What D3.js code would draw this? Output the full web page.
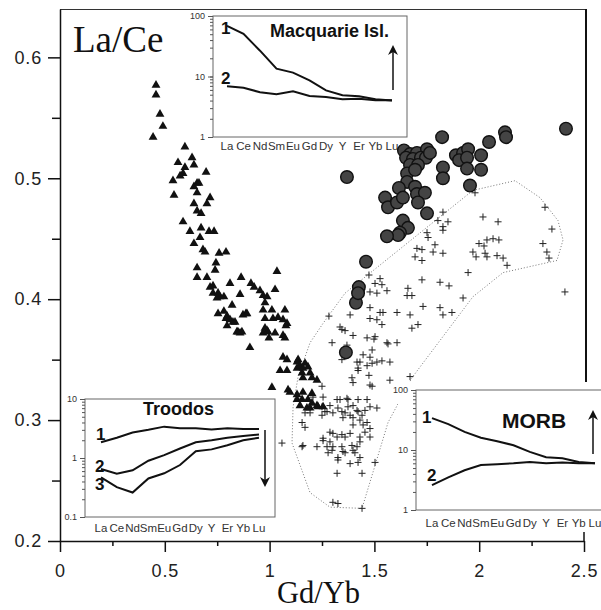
<!DOCTYPE html>
<html>
<head>
<meta charset="utf-8">
<script src="https://cdn.jsdelivr.net/npm/d3@7"></script>
<style>
body { margin: 0; background: #fff; }
svg { display: block; font-family: "Liberation Sans", Arial, sans-serif; }
</style>
</head>
<body>
<div id="container"></div>
<script>
// Gd/Yb vs La/Ce scatter data
const triangles = [
  [0.458,0.577],[0.458,0.569],[0.477,0.553],[0.491,0.543],[0.444,0.534],
  [0.596,0.526],[0.563,0.513],[0.630,0.517],[0.639,0.511],[0.596,0.509],[0.587,0.504],[0.573,0.502],
  [0.539,0.498],[0.697,0.505],[0.654,0.496],[0.639,0.493],[0.663,0.496],[0.654,0.488],[0.544,0.486],
  [0.716,0.484],[0.639,0.479],[0.701,0.479],[0.654,0.473],[0.673,0.471],[0.587,0.464],[0.620,0.456],
  [0.673,0.459],[0.711,0.456],[0.735,0.456],[0.668,0.451],[0.639,0.446],[0.682,0.441],[0.692,0.439],
  [0.759,0.438],[0.792,0.439],[0.744,0.430],[0.654,0.426],[0.654,0.418],[0.701,0.418],[0.716,0.410],
  [0.811,0.413],[0.864,0.418],[0.911,0.413],[0.954,0.407],[1.035,0.423],[1.026,0.408],[0.730,0.405],
  [0.763,0.402],[0.782,0.402],[0.859,0.404],[0.969,0.403],[0.988,0.402],[0.740,0.424],[0.730,0.411],
  [0.754,0.405],[0.749,0.401],[0.926,0.410],
  [0.754,0.388],[0.797,0.386],[0.811,0.383],[0.825,0.381],[0.887,0.388],[0.849,0.373],[0.859,0.372],
  [0.978,0.397],[0.969,0.391],[0.978,0.384],[1.016,0.384],[1.040,0.385],[1.073,0.391],[1.064,0.383],
  [1.083,0.380],[0.988,0.374],[0.969,0.372],[1.026,0.372],[1.064,0.370],[0.906,0.360],[0.821,0.395],
  [0.782,0.390],[0.792,0.384],[0.835,0.381],[0.797,0.378],[0.873,0.387],[0.892,0.388],[1.011,0.391],
  [1.078,0.378],[0.978,0.376],[0.992,0.373],[0.844,0.373],[0.868,0.373],[0.997,0.368],[1.073,0.368],
  [1.064,0.352],[1.050,0.341],[1.083,0.341],[1.131,0.343],[1.011,0.327],[1.088,0.325],[1.131,0.321],
  [1.083,0.350],[1.136,0.350],[1.169,0.347],[1.183,0.344],[1.155,0.339],[1.193,0.339],[1.159,0.335],
  [1.202,0.335],[1.226,0.333],[1.159,0.323],[1.202,0.322],[1.131,0.317],[1.183,0.317],[1.145,0.312],
  [1.202,0.314],[1.178,0.310],[1.231,0.311],[1.131,0.348],[1.145,0.345],[1.159,0.343],[1.097,0.323],
  [1.155,0.317],[1.193,0.310],[1.226,0.312],[1.255,0.311]
]

const circles = [
  [1.823,0.534],[1.641,0.523],[1.670,0.520],[1.703,0.521],[1.751,0.524],[1.651,0.517],[1.684,0.516],
  [1.722,0.517],[1.746,0.517],[1.670,0.511],[1.708,0.511],[1.656,0.504],[1.694,0.507],[1.827,0.509],
  [1.827,0.500],[1.889,0.519],[1.923,0.521],[1.947,0.524],[1.904,0.515],[1.942,0.517],[1.942,0.508],
  [2.009,0.519],[2.009,0.507],[2.047,0.530],[2.123,0.538],[2.128,0.534],[2.414,0.541],[1.369,0.501],
  [1.656,0.497],[1.617,0.492],[1.551,0.484],[1.565,0.476],[1.608,0.480],[1.636,0.484],[1.694,0.493],
  [1.703,0.487],[1.741,0.488],[1.708,0.480],[1.751,0.471],[1.956,0.494],[1.636,0.465],[1.660,0.459],
  [1.622,0.455],[1.613,0.453],[1.560,0.452],[1.460,0.431],[1.426,0.410],[1.765,0.521],[1.412,0.397],
  [1.422,0.405],[1.364,0.356]
]

const crosses = [
  [1.980,0.488],[1.827,0.472],[1.803,0.465],[1.851,0.464],[1.827,0.460],[1.827,0.457],[1.751,0.455],
  [1.756,0.451],[2.018,0.468],[2.090,0.464],[2.314,0.476],[2.347,0.458],[1.703,0.442],[1.727,0.441],
  [1.694,0.435],[1.727,0.432],[1.789,0.445],[1.780,0.439],[1.827,0.438],[1.999,0.446],[2.023,0.444],
  [2.037,0.449],[2.066,0.450],[2.094,0.449],[1.970,0.439],[1.985,0.435],[2.028,0.438],[2.037,0.435],
  [2.085,0.436],[2.114,0.434],[2.133,0.428],[2.304,0.446],[2.323,0.439],[2.333,0.434],[1.947,0.422],
  [1.474,0.420],[1.527,0.417],[1.503,0.413],[1.536,0.412],[1.479,0.406],[1.512,0.405],[1.560,0.407],
  [1.660,0.409],[1.656,0.403],[1.679,0.403],[1.727,0.416],[1.813,0.414],[1.856,0.411],[1.923,0.401],
  [2.409,0.406],
  [1.283,0.386],[1.336,0.377],[1.345,0.375],[1.398,0.370],[1.298,0.364],[1.369,0.362],[1.345,0.350],
  [1.465,0.368],[1.498,0.367],[1.565,0.363],[1.608,0.364],[1.479,0.393],[1.527,0.389],[1.479,0.384],
  [1.512,0.383],[1.536,0.379],[1.608,0.389],[1.670,0.387],[1.679,0.376],[1.708,0.379],[1.732,0.394],
  [1.813,0.393],[1.827,0.387],[1.870,0.389],[1.489,0.358],[1.446,0.354],[1.431,0.348],[1.422,0.341],
  [1.465,0.345],[1.489,0.347],[1.512,0.348],[1.536,0.349],[1.574,0.348],[1.474,0.337],[1.393,0.335],
  [1.574,0.333],[1.398,0.331],[1.489,0.328],[1.670,0.336],[1.250,0.328],[1.322,0.317],[1.374,0.317],
  [1.398,0.312],[1.422,0.317],[1.465,0.317],[1.326,0.310],[1.302,0.306],[1.360,0.306],[1.384,0.304],
  [1.422,0.307],[1.455,0.308],[1.512,0.310],[1.431,0.300],[1.446,0.296],[1.465,0.298],[1.169,0.294],
  [1.255,0.285],[1.302,0.289],[1.345,0.288],[1.350,0.274],[1.274,0.278],[1.298,0.275],[1.326,0.269],
  [1.360,0.273],[1.398,0.275],[1.431,0.269],[1.384,0.264],[1.322,0.256],[1.441,0.256],[1.503,0.265],
  [1.479,0.286],[1.398,0.296],[1.302,0.232],[1.326,0.231],[1.441,0.227],[1.159,0.279],
  [1.384,0.387],[1.360,0.374],[1.503,0.369],[1.541,0.389],[1.560,0.364],[1.417,0.348],[1.479,0.352],
  [1.422,0.343],[1.479,0.329],[1.207,0.319],[1.255,0.319],[1.288,0.312],[1.264,0.307],[1.250,0.304],
  [1.336,0.317],[1.369,0.318],[1.479,0.311],[1.345,0.307],[1.374,0.311],[1.417,0.308],[1.441,0.304],
  [1.398,0.302],[1.350,0.302],[1.288,0.290],[1.322,0.286],[1.360,0.286],[1.384,0.289],[1.431,0.286],
  [1.455,0.290],[1.479,0.293],[1.288,0.282],[1.302,0.278],[1.345,0.278],[1.393,0.279],[1.417,0.278],
  [1.431,0.282],[1.407,0.273],[1.279,0.273],[1.255,0.283],[1.155,0.298],[1.059,0.281],[1.155,0.278],
  [1.226,0.278],[1.326,0.267],[1.422,0.265],[1.169,0.306],[1.193,0.306],[1.250,0.311],[1.274,0.307]
]

// dotted field outline
const field = [
  [1.970,0.490],[2.171,0.498],[2.290,0.484],[2.376,0.465],[2.400,0.449],[2.371,0.432],[2.114,0.422],
  [1.970,0.402],[1.679,0.335],[1.565,0.298],[1.441,0.227],[1.288,0.228],[1.193,0.240],[1.107,0.281],
  [1.112,0.311],[1.136,0.336],[1.193,0.364],[1.255,0.380],[1.360,0.405]
]

const xTicks = [0, 0.5, 1, 1.5, 2, 2.5]
const xMinor = [0.25, 0.75, 1.25, 1.75, 2.25]
const yTicks = [0.2, 0.3, 0.4, 0.5, 0.6]
const yMinor = [0.25, 0.35, 0.45, 0.55]

// REE patterns of the insets
const elements = ["La","Ce","Nd","Sm","Eu","Gd","Dy","Y","Er","Yb","Lu"]
const macquarie1 = [68.6, 50.7, 26.7, 13.5, 11.6, 8.6, 5.9, 4.9, 4.7, 4.2, 4.0]
const macquarie2 = [6.9, 6.5, 5.5, 5.1, 5.7, 4.75, 4.6, 4.2, 4.3, 4.05, 4.05]
const troodos1 = [1.85, 2.2, 2.7, 3.0, 3.4, 3.2, 3.2, 3.05, 3.2, 3.1, 3.1]
const troodos2 = [0.65, 0.54, 0.62, 0.9, 1.12, 1.45, 1.85, 2.0, 2.2, 2.35, 2.5]
const troodos3 = [0.47, 0.32, 0.26, 0.45, 0.55, 0.76, 1.3, 1.4, 1.65, 2.0, 2.2]
const morb1 = [34, 27, 20, 16, 14, 12, 9.3, 7.6, 7.3, 6.3, 6.0]
const morb2 = [2.6, 3.5, 4.6, 5.6, 5.8, 6.0, 6.3, 6.0, 6.2, 6.0, 6.0]

const width = 601
const height = 610

const svg = d3.select("#container").append("svg")
            .attr("width", width)
            .attr("height", height)

const x = d3.scaleLinear().domain([0, 2.5]).range([60, 584])
const y = d3.scaleLinear().domain([0.2, 0.64]).range([541, 9])

// frame lines
svg.append("line").attr("x1", 60).attr("x2", 586).attr("y1", 9.5).attr("y2", 9.5)
   .attr("stroke", "#333").attr("stroke-width", 1)
svg.append("line").attr("x1", 586).attr("x2", 586).attr("y1", 9).attr("y2", 392)
   .attr("stroke", "#111").attr("stroke-width", 2)
svg.append("line").attr("x1", x(2.5)).attr("x2", x(2.5)).attr("y1", 530).attr("y2", 541)
   .attr("stroke", "#111").attr("stroke-width", 1.5)

// axes
svg.append("g").attr("transform", "translate(60,0)")
   .call(d3.axisLeft(y).tickValues(yTicks).tickSize(12).tickSizeOuter(0).tickPadding(6).tickFormat(d3.format(".1f")))
svg.append("g").attr("transform", "translate(60,0)")
   .call(d3.axisLeft(y).tickValues(yMinor).tickSize(8).tickFormat(""))
   .call(g => g.select(".domain").remove())

svg.append("g").attr("transform", "translate(0,541)")
   .call(d3.axisBottom(x).tickValues(xTicks).tickSize(11).tickSizeOuter(0).tickPadding(12).tickFormat(d3.format("")))
svg.append("g").attr("transform", "translate(0,541)")
   .call(d3.axisBottom(x).tickValues(xMinor).tickSize(5).tickFormat(""))
   .call(g => g.select(".domain").remove())

svg.selectAll(".tick line, .domain").attr("stroke", "#111").attr("stroke-width", 1.5)
svg.selectAll(".tick text").attr("font-size", 18).attr("fill", "#222")
   .attr("font-family", "Liberation Sans, Arial, sans-serif").attr("letter-spacing", 0.8)

// titles
svg.append("text").attr("x", 73).attr("y", 52).text("La/Ce")
   .attr("font-family", "Liberation Serif, Times New Roman, serif").attr("font-size", 37).attr("fill", "#111")
svg.append("text").attr("x", 277).attr("y", 603).text("Gd/Yb")
   .attr("font-family", "Liberation Serif, Times New Roman, serif").attr("font-size", 30.5).attr("fill", "#111")

// field outline
svg.append("path")
   .datum(field)
   .attr("d", d3.line().x(d => x(d[0])).y(d => y(d[1])).curve(d3.curveLinearClosed))
   .attr("fill", "none")
   .attr("stroke", "#777")
   .attr("stroke-width", 1)
   .attr("stroke-dasharray", "1,2")

// insets
const defs = svg.append("defs")
defs.append("marker").attr("id", "head")
    .attr("viewBox", "0 0 10 10").attr("refX", 8).attr("refY", 5)
    .attr("markerWidth", 10).attr("markerHeight", 12).attr("markerUnits", "userSpaceOnUse")
    .attr("orient", "auto")
    .append("path").attr("d", "M0,0L10,5L0,10L3,5Z").attr("fill", "#111")

function drawInset(cfg) {
    const g = svg.append("g")
    const ix = d3.scalePoint().domain(elements).range([cfg.elemL, cfg.elemR])
    const iy = d3.scaleLog().domain(cfg.yDomain).range([cfg.bottom, cfg.top])

    g.append("rect").attr("x", cfg.bg[0]).attr("y", cfg.bg[1])
     .attr("width", cfg.bg[2] - cfg.bg[0]).attr("height", cfg.bg[3] - cfg.bg[1])
     .attr("fill", "#fff")

    g.append("rect").attr("x", cfg.left).attr("y", cfg.top)
     .attr("width", cfg.right - cfg.left).attr("height", cfg.bottom - cfg.top)
     .attr("fill", "none").attr("stroke", "#666").attr("stroke-width", 1)

    g.append("g").attr("transform", `translate(${cfg.left},0)`)
     .call(d3.axisLeft(iy).tickValues(iy.ticks()).tickSize(3).tickFormat(""))
     .call(a => a.select(".domain").remove())
    g.append("g").attr("transform", `translate(${cfg.left},0)`)
     .call(d3.axisLeft(iy).tickValues(cfg.decades).tickSize(5).tickPadding(3).tickFormat(d3.format("")))
     .call(a => a.select(".domain").remove())
    g.selectAll(".tick line").attr("stroke", "#555")
    g.selectAll(".tick text").attr("font-size", 9).attr("fill", "#333")

    g.selectAll(".elem")
     .data(elements)
     .enter()
     .append("text")
     .attr("class", "elem")
     .attr("x", d => ix(d))
     .attr("y", cfg.labelY)
     .attr("text-anchor", "middle")
     .attr("font-size", 11.5)
     .attr("fill", "#333")
     .text(d => d)

    const line = d3.line().x((d, i) => ix(elements[i])).y(d => iy(d))
    cfg.series.forEach(s => {
        g.append("path").datum(s).attr("d", line)
         .attr("fill", "none").attr("stroke", "#111").attr("stroke-width", 2)
    })

    cfg.nums.forEach(n => {
        g.append("text").attr("x", n[1]).attr("y", n[2]).text(n[0])
         .attr("font-weight", "bold").attr("font-size", 17).attr("fill", "#111")
    })

    g.append("text").attr("x", cfg.title[1]).attr("y", cfg.title[2]).text(cfg.title[0])
     .attr("font-weight", "bold").attr("font-size", cfg.title[3]).attr("fill", "#111")

    g.append("line")
     .attr("x1", cfg.arrow[0]).attr("x2", cfg.arrow[0])
     .attr("y1", cfg.arrow[1]).attr("y2", cfg.arrow[2])
     .attr("stroke", "#111").attr("stroke-width", 1.5)
     .attr("marker-end", "url(#head)")
}

drawInset({
    left: 416, right: 640, top: 390, bottom: 510,
    bg: [398, 382, 601, 532],
    elemL: 432, elemR: 595, yDomain: [1, 100], decades: [1, 10, 100], labelY: 527,
    series: [morb1, morb2],
    nums: [["1", 422, 423], ["2", 427, 481]],
    title: ["MORB", 502, 428, 21],
    arrow: [593, 454, 412]
})

drawInset({
    left: 85, right: 275, top: 399, bottom: 517,
    bg: [62, 393, 281, 537],
    elemL: 101, elemR: 259, yDomain: [0.1, 10], decades: [0.1, 1, 10], labelY: 532,
    series: [troodos1, troodos2, troodos3],
    nums: [["1", 96, 440], ["2", 95, 472], ["3", 95, 490]],
    title: ["Troodos", 143, 415, 18],
    arrow: [265, 430, 485]
})

drawInset({
    left: 213, right: 407, top: 16, bottom: 137,
    bg: [185, 12, 410, 156],
    elemL: 227, elemR: 392, yDomain: [1, 100], decades: [1, 10, 100], labelY: 150,
    series: [macquarie1, macquarie2],
    nums: [["1", 221, 34], ["2", 221, 84]],
    title: ["Macquarie Isl.", 270, 37, 18],
    arrow: [393, 90, 47]
})

// scatter marks
svg.selectAll(".cross")
   .data(crosses)
   .enter()
   .append("path")
   .attr("class", "cross")
   .attr("transform", d => `translate(${x(d[0])},${y(d[1])})`)
   .attr("d", "M-3.5,0H3.5M0,-3.5V3.5")
   .attr("stroke", "#222")
   .attr("stroke-width", 1)

svg.selectAll(".circle")
   .data(circles)
   .enter()
   .append("circle")
   .attr("class", "circle")
   .attr("cx", d => x(d[0]))
   .attr("cy", d => y(d[1]))
   .attr("r", 6.3)
   .attr("fill", "#444")
   .attr("stroke", "#111")
   .attr("stroke-width", 1.4)

svg.selectAll(".tri")
   .data(triangles)
   .enter()
   .append("path")
   .attr("class", "tri")
   .attr("transform", d => `translate(${x(d[0])},${y(d[1])})`)
   .attr("d", d3.symbol().type(d3.symbolTriangle).size(34))
   .attr("fill", "#111")
</script>
</body>
</html>
